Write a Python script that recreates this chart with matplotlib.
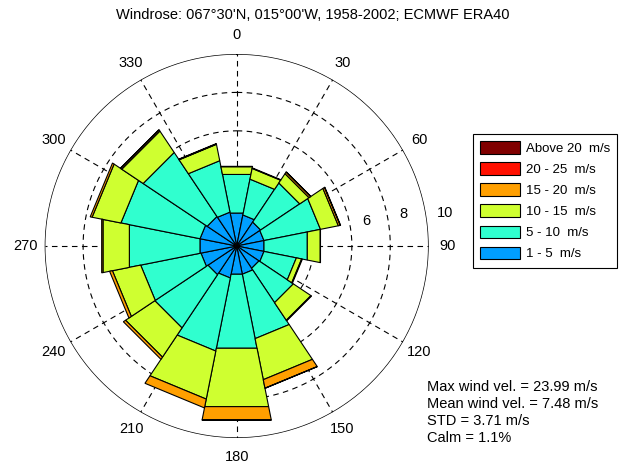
import numpy as np
import matplotlib
matplotlib.use("Agg")
import matplotlib.pyplot as plt
from matplotlib.patches import Patch

plt.rcParams['font.family'] = ['Liberation Sans', 'DejaVu Sans']

# 16 direction sectors (compass degrees, clockwise from north)
directions = np.arange(0, 360, 22.5)

# frequency (%) per speed class, per direction
f_1_5 = [1.75, 1.65, 1.5, 1.45, 1.45, 1.45, 1.4, 1.5, 1.5, 1.7, 1.8, 1.9, 1.95, 1.95, 1.85, 1.8]
f_5_10 = [2.05, 1.9, 2.45, 3.0, 2.3, 1.72, 2.15, 3.42, 3.93, 3.88, 3.33, 3.2, 3.75, 4.2, 4.01, 2.73]
f_10_15 = [0.41, 0.57, 0.58, 0.95, 0.69, 0.28, 1.1, 2.18, 3.1, 2.55, 1.83, 1.5, 1.4, 1.53, 1.34, 0.87]
f_15_20 = [0.02, 0.03, 0.1, 0.1, 0.01, 0.04, 0.04, 0.45, 0.71, 0.47, 0.14, 0.15, 0.07, 0.1, 0.07, 0.02]
f_20_25 = [0, 0, 0, 0, 0, 0, 0, 0.01, 0.01, 0, 0, 0, 0, 0, 0, 0]
f_above = [0, 0, 0.02, 0.02, 0, 0, 0, 0, 0, 0, 0, 0, 0, 0, 0.02, 0.02]

classes = [f_1_5, f_5_10, f_10_15, f_15_20, f_20_25, f_above]
colors = ['#009FFF', '#30FFCF', '#CFFF30', '#FF9F00', '#FF1000', '#800000']
legend_labels = ['Above 20  m/s', '20 - 25  m/s', '15 - 20  m/s', '10 - 15  m/s', '5 - 10  m/s', '1 - 5  m/s']

angle_labels = ['0', '30', '60', '90', '120', '150', '180', '210', '240', '270', '300', '330']
ring_labels = [6, 8, 10]

title = "Windrose: 067°30'N, 015°00'W, 1958-2002; ECMWF ERA40"
stats = ("Max wind vel. = 23.99 m/s\nMean wind vel. = 7.48 m/s\n"
         "STD = 3.71 m/s\nCalm = 1.1%")

fig = plt.figure(figsize=(6.26, 4.68), dpi=100)
ax = fig.add_axes([0.0714, 0.0641, 0.6134, 0.8205], projection='polar')
ax.set_theta_zero_location('N')
ax.set_theta_direction(-1)
ax.set_ylim(0, 10)
ax.set_xticks([])
ax.set_yticks([])
ax.grid(False)
ax.spines['polar'].set_visible(False)

# grid
full = np.linspace(0, 2 * np.pi, 361)
for r in [2, 4, 6, 8]:
    ax.plot(full, np.full_like(full, r), color='k', lw=0.8, ls=(0, (5, 4)), zorder=0)
for a in range(0, 360, 30):
    ax.plot([np.radians(a)] * 2, [0, 10], color='k', lw=0.8, ls=(0, (5, 4)), zorder=0)
ax.plot(full, np.full_like(full, 10), color='k', lw=1.0, zorder=0)

# stacked sectors with straight edges
half = np.radians(11.25)
base = np.zeros(len(directions))
for vals, col in zip(classes, colors):
    vals = np.array(vals, dtype=float)
    top = base + vals
    for d, r0, r1 in zip(directions, base, top):
        if r1 - r0 <= 0:
            continue
        t = np.radians(d)
        ax.fill([t - half, t + half, t + half, t - half],
                [r0, r0, r1, r1], facecolor=col, edgecolor='k', lw=0.8, zorder=2)
    base = top

for i, lab in enumerate(angle_labels):
    ax.text(np.radians(i * 30), 11.0, lab, ha='center', va='center', fontsize=10.5, clip_on=False)
for v, a in zip(ring_labels, [79, 79, 81]):
    rr = v + 0.87 if v < 10 else 11.0
    ax.text(np.radians(a), rr, str(v), ha='center', va='center', fontsize=10.5, clip_on=False)

fig.text(0.5, 1 - 15 / 468, title, ha='center', va='center', fontsize=10.5)
fig.text(427 / 626, 1 - 380 / 468, stats, ha='left', va='top', fontsize=10.5, linespacing=1.28)

handles = [Patch(facecolor=c, edgecolor='k', lw=0.8) for c in colors[::-1]]
leg = fig.legend(handles, legend_labels, loc='upper left',
                 bbox_to_anchor=(473 / 626, 1 - 134 / 468), fontsize=9.5,
                 frameon=True, fancybox=False, edgecolor='k', framealpha=1,
                 handlelength=3.0, handleheight=1.1, labelspacing=0.55,
                 handletextpad=0.45, borderpad=0.55, borderaxespad=0)
leg.get_frame().set_linewidth(0.8)

fig.savefig('out.png', dpi=100)
